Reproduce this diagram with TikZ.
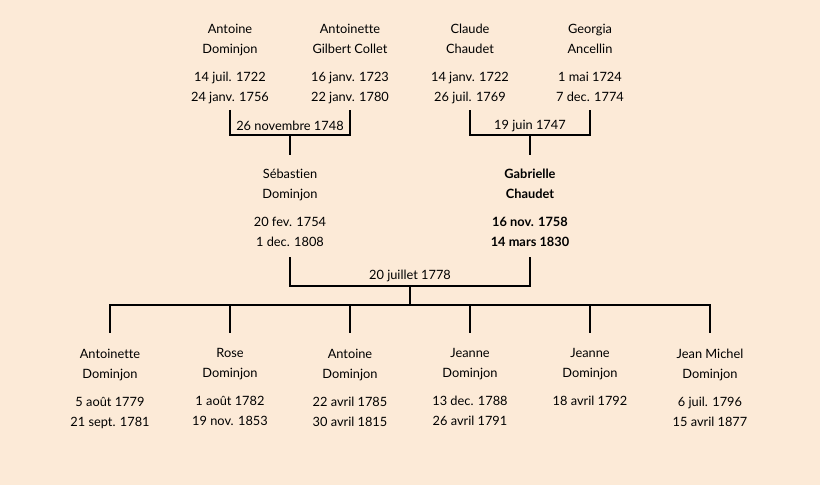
\documentclass[tikz,border=0pt]{standalone}
\usepackage{fontspec}
\setmainfont{Lato}[Ligatures=NoCommon]
\usepackage{tikz}
\usetikzlibrary{positioning, calc}
\definecolor{parchment}{RGB}{252,234,215}

\begin{document}
\begin{tikzpicture}[x=1pt, y=-1pt, line width=1.6pt,
  every node/.style={font=\fontsize{12.8}{20}\selectfont, inner sep=0pt},
  person/.style={align=center, anchor=north, execute at begin node=\strut, execute at end node=\strut},
  wedding/.style={anchor=center}]

\fill[parchment] (0,0) rectangle (820,485);
\useasboundingbox (0,0) rectangle (820,485);

%//grandparents
\foreach \x/\n/\txt in {230/g1/{Antoine\\Dominjon\\[8pt]14 juil. 1722\\24 janv. 1756},
  350/g2/{Antoinette\\Gilbert Collet\\[8pt]16 janv. 1723\\22 janv. 1780},
  470/g3/{Claude\\Chaudet\\[8pt]14 janv. 1722\\26 juil. 1769},
  590/g4/{Georgia\\Ancellin\\[8pt]1 mai 1724\\7 dec. 1774}}
\node [person] (\n) at (\x, 23) {\txt};

\coordinate (j1) at (290,135);
\coordinate (j2) at (530,135);
\node [wedding] (w1) at (290,126) {26 novembre 1748};
\node [wedding] (w2) at (530,126) {19 juin 1747};

%//parents
\node [person] (s1) at (290,168) {Sébastien\\Dominjon\\[8pt]20 fev. 1754\\1 dec. 1808};
\node [person, font=\fontsize{12.8}{20}\selectfont\bfseries] (s2) at (530,168) {Gabrielle\\Chaudet\\[8pt]16 nov. 1758\\14 mars 1830};

\draw ([yshift=-2pt]g1.south) |- (j1) -| ([yshift=-2pt]g2.south);
\draw ([yshift=-2pt]g3.south) |- (j2) -| ([yshift=-2pt]g4.south);
\draw (j1) -- ([yshift=13pt]s1.north);
\draw (j2) -- ([yshift=13pt]s2.north);

\coordinate (j3) at (410,286);
\coordinate (k) at (410,305);
\node [wedding] (w3) at (410,276) {20 juillet 1778};
\draw ([yshift=-4pt]s1.south) |- (j3) -| ([yshift=-4pt]s2.south);
\draw (j3) -- (k);

%//children
\foreach \i/\x/\txt in {1/110/{Antoinette\\Dominjon\\[8pt]5 août 1779\\21 sept. 1781},
  2/230/{Rose\\Dominjon\\[8pt]1 août 1782\\19 nov. 1853},
  3/350/{Antoine\\Dominjon\\[8pt]22 avril 1785\\30 avril 1815},
  4/470/{Jeanne\\Dominjon\\[8pt]13 dec. 1788\\26 avril 1791},
  5/590/{Jeanne\\Dominjon\\[8pt]18 avril 1792},
  6/710/{Jean Michel\\Dominjon\\[8pt]6 juil. 1796\\15 avril 1877}}
\node [person] (c\i) at (\x, 348) {\txt};

\foreach \i in {1,...,6}
\draw (k) -| ([yshift=15pt]c\i.north);
\end{tikzpicture}
\end{document}
